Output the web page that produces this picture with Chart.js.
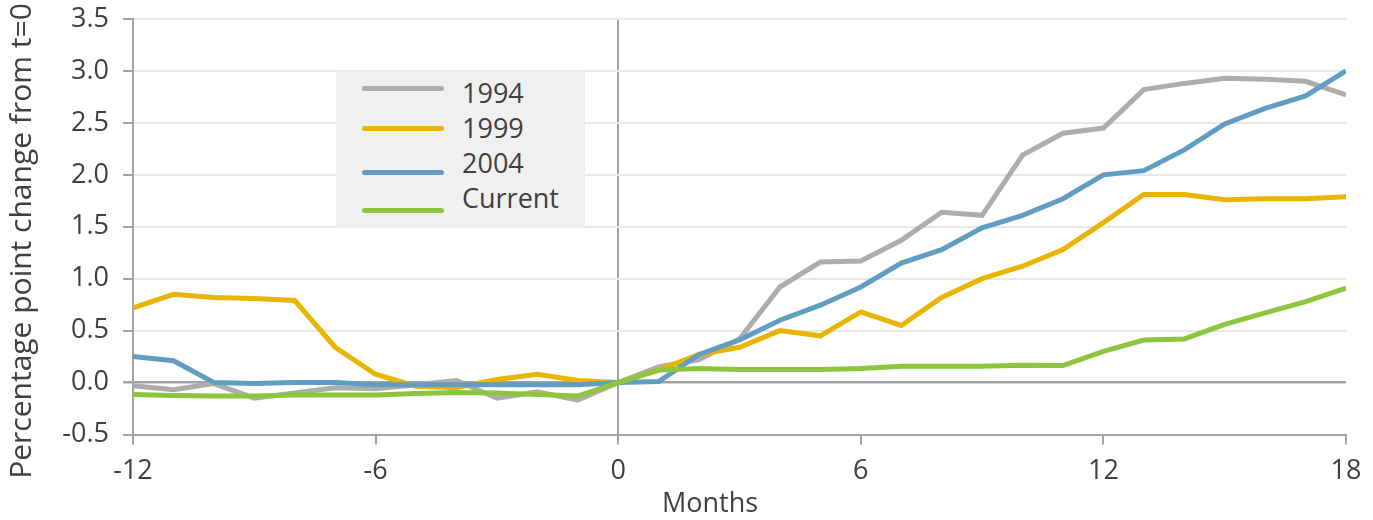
<!DOCTYPE html>
<html>
<head>
<meta charset="utf-8">
<script src="https://cdn.jsdelivr.net/npm/chart.js@4.4.0/dist/chart.umd.min.js"></script>
<style>
    body { margin: 0; background: #fff; }
    #wrap { position: relative; width: 1373px; height: 520px; }
    #legend {
        position: absolute; left: 336px; top: 71px; width: 249px; height: 157px;
        background: #f0f0f0; font-family: "Open Sans", sans-serif; font-size: 27px; color: #404040;
    }
    .legend-line { position: absolute; left: 26px; width: 82px; height: 5px; border-radius: 3px; }
    .legend-text { position: absolute; left: 126px; line-height: 30px; }
</style>
</head>
<body>
<div id="wrap">
    <canvas id="myChart" width="1373" height="520"></canvas>
    <div id="legend"></div>
</div>
<script>
const months = [-12, -11, -10, -9, -8, -7, -6, -5, -4, -3, -2, -1, 0, 1, 2, 3, 4, 5, 6, 7, 8, 9, 10, 11, 12, 13, 14, 15, 16, 17, 18];

const seriesNames = ['1994', '1999', '2004', 'Current'];
const seriesColors = ['#adadad', '#e9b500', '#619dc2', '#8dc53e'];

const y1994 = [-0.03, -0.07, -0.01, -0.15, -0.10, -0.05, -0.06, -0.02, 0.02, -0.15, -0.09, -0.17, 0.00,
    0.15, 0.22, 0.42, 0.92, 1.16, 1.17, 1.37, 1.64, 1.61, 2.19, 2.40, 2.45, 2.82, 2.88, 2.93, 2.92, 2.90, 2.77];
const y1999 = [0.72, 0.85, 0.82, 0.81, 0.79, 0.34, 0.08, -0.035, -0.05, 0.03, 0.08, 0.02, 0.00,
    0.12, 0.27, 0.34, 0.50, 0.45, 0.68, 0.55, 0.82, 1.00, 1.12, 1.28, 1.54, 1.81, 1.81, 1.76, 1.77, 1.77, 1.79];
const y2004 = [0.25, 0.21, 0.00, -0.01, 0.00, 0.00, -0.02, -0.02, -0.02, -0.02, -0.02, -0.02, 0.00,
    0.01, 0.27, 0.41, 0.60, 0.745, 0.92, 1.15, 1.28, 1.49, 1.61, 1.77, 2.00, 2.04, 2.24, 2.49, 2.64, 2.76, 3.00];
const yCurrent = [-0.115, -0.125, -0.13, -0.13, -0.12, -0.12, -0.12, -0.105, -0.095, -0.10, -0.115, -0.13, 0.00,
    0.12, 0.135, 0.125, 0.125, 0.125, 0.135, 0.157, 0.157, 0.157, 0.167, 0.164, 0.30, 0.41, 0.42, 0.56, 0.67, 0.78, 0.91];

const seriesValues = [y1994, y1999, y2004, yCurrent];

const xTitle = 'Months';
const yTitle = 'Percentage point change from t=0';

const textColor = '#404040';
const axisColor = '#a3a3a3';
const gridColor = '#e8e8e8';
const fontFamily = '"Open Sans", sans-serif';

const datasets = seriesNames.map((name, i) => ({
    label: name,
    data: months.map((m, j) => ({ x: m, y: seriesValues[i][j] })),
    borderColor: seriesColors[i],
    backgroundColor: seriesColors[i],
    borderWidth: 5,
    pointRadius: 0,
    tension: 0,
    fill: false,
    order: seriesNames.length - 1 - i
}));

// axis titles drawn by hand: the original sits a bit off the axis centre
const axisTitles = {
    id: 'axisTitles',
    afterDraw(chart) {
        const c = chart.ctx;
        c.save();
        c.fillStyle = textColor;
        c.textAlign = 'center';
        c.textBaseline = 'middle';
        c.font = '27px ' + fontFamily;
        c.fillText(xTitle, 710, 504);
        c.translate(22, 241);
        c.rotate(-Math.PI / 2);
        c.font = '30px ' + fontFamily;
        c.fillText(yTitle, 0, 0);
        c.restore();
    }
};

const ctx = document.getElementById('myChart').getContext('2d');

const myChart = new Chart(ctx, {
    type: 'line',
    data: { datasets: datasets },
    plugins: [axisTitles],
    options: {
        responsive: false,
        animation: false,
        layout: { padding: { top: 19, right: 27, left: 0, bottom: 0 } },
        plugins: {
            legend: { display: false },
            tooltip: { enabled: false }
        },
        scales: {
            x: {
                type: 'linear',
                min: -12,
                max: 18,
                afterFit: (scale) => { scale.height = 85.5; },
                ticks: {
                    stepSize: 6,
                    padding: 11,
                    color: textColor,
                    font: { family: fontFamily, size: 27 }
                },
                grid: {
                    color: (c) => c.tick && c.tick.value === 0 ? axisColor : 'rgba(0,0,0,0)',
                    lineWidth: 2,
                    tickColor: axisColor,
                    tickLength: 10,
                    drawOnChartArea: true
                },
                border: { color: axisColor, width: 2 }
            },
            y: {
                min: -0.5,
                max: 3.5,
                afterFit: (scale) => {
                    scale.width = 133;
                    scale.paddingTop = 0;
                    scale.paddingBottom = 0;
                },
                ticks: {
                    stepSize: 0.5,
                    padding: 14,
                    color: textColor,
                    font: { family: fontFamily, size: 27 },
                    callback: (v) => v.toFixed(1)
                },
                grid: {
                    color: (c) => c.tick && c.tick.value === 0 ? axisColor : gridColor,
                    lineWidth: (c) => c.tick && c.tick.value === 0 ? 2.5 : 2,
                    tickColor: axisColor,
                    tickLength: 10
                },
                border: { color: axisColor, width: 2 }
            }
        }
    }
});

const legend = document.getElementById('legend');
const lineTops = [15, 55, 99, 137];
const textTops = [7, 42, 77, 112];

seriesNames.forEach((name, i) => {
    legend.innerHTML += `
    <div class="legend-line" style="top:${lineTops[i]}px; background:${seriesColors[i]};"></div>
    <div class="legend-text" style="top:${textTops[i]}px;">${name}</div>
  `;
});
</script>
</body>
</html>
